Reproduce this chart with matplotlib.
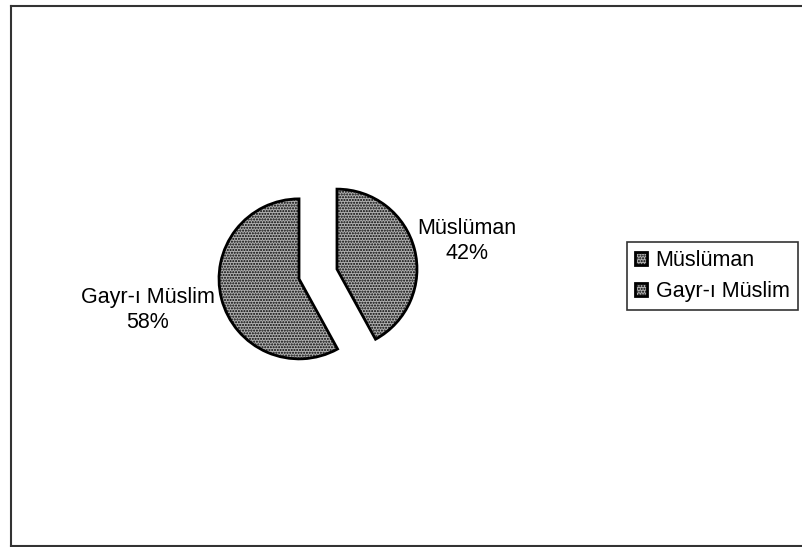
import matplotlib
matplotlib.use("Agg")
import matplotlib.pyplot as plt
from matplotlib.lines import Line2D

plt.rcParams['font.family'] = ['Liberation Sans', 'DejaVu Sans']

labels = ['Müslüman', 'Gayr-ı Müslim']
values = [42, 58]

W, H = 802, 547
R = 80
fig = plt.figure(figsize=(W / 100, H / 100), dpi=100)
ax = fig.add_axes([0, 0, 1, 1])

# pie in pixel units (explode is absolute, so scale by radius)
wedges, _ = ax.pie(values, center=(318, H - 274), radius=R,
                   startangle=90, counterclock=False,
                   explode=[0.245 * R, 0.245 * R],
                   colors=['#b0b0b0', '#b0b0b0'],
                   wedgeprops=dict(edgecolor='black', linewidth=2, hatch='......'),
                   frame=True)
ax.set_xlim(0, W)
ax.set_ylim(0, H)
ax.set_aspect('equal')
ax.axis('off')

total = sum(values)
pos = [(467, H - 241), (148, H - 310)]
for lab, v, (x, y) in zip(labels, values, pos):
    ax.text(x, y, f"{lab}\n{round(100 * v / total)}%", ha='center', va='center',
            fontsize=15.5, linespacing=1.25)

leg = fig.legend(wedges, labels, loc='upper left',
                 bbox_to_anchor=(627 / W, 1 - 242 / H),
                 fontsize=15.5, frameon=True, fancybox=False,
                 handlelength=0.55, handleheight=0.55, handletextpad=0.4,
                 labelspacing=0.45, borderpad=0.38, borderaxespad=0)
leg.get_frame().set_edgecolor('black')
leg.get_frame().set_linewidth(1.2)

# outer frame (right side falls off the image)
kw = dict(color='#333333', linewidth=1.5, transform=fig.transFigure)
fig.add_artist(Line2D([11 / W, 1.0], [1 - 6 / H, 1 - 6 / H], **kw))
fig.add_artist(Line2D([11 / W, 11 / W], [1 - 6 / H, 1 - 546 / H], **kw))
fig.add_artist(Line2D([11 / W, 1.0], [1 - 546 / H, 1 - 546 / H], **kw))

fig.savefig('out.png', dpi=100)
